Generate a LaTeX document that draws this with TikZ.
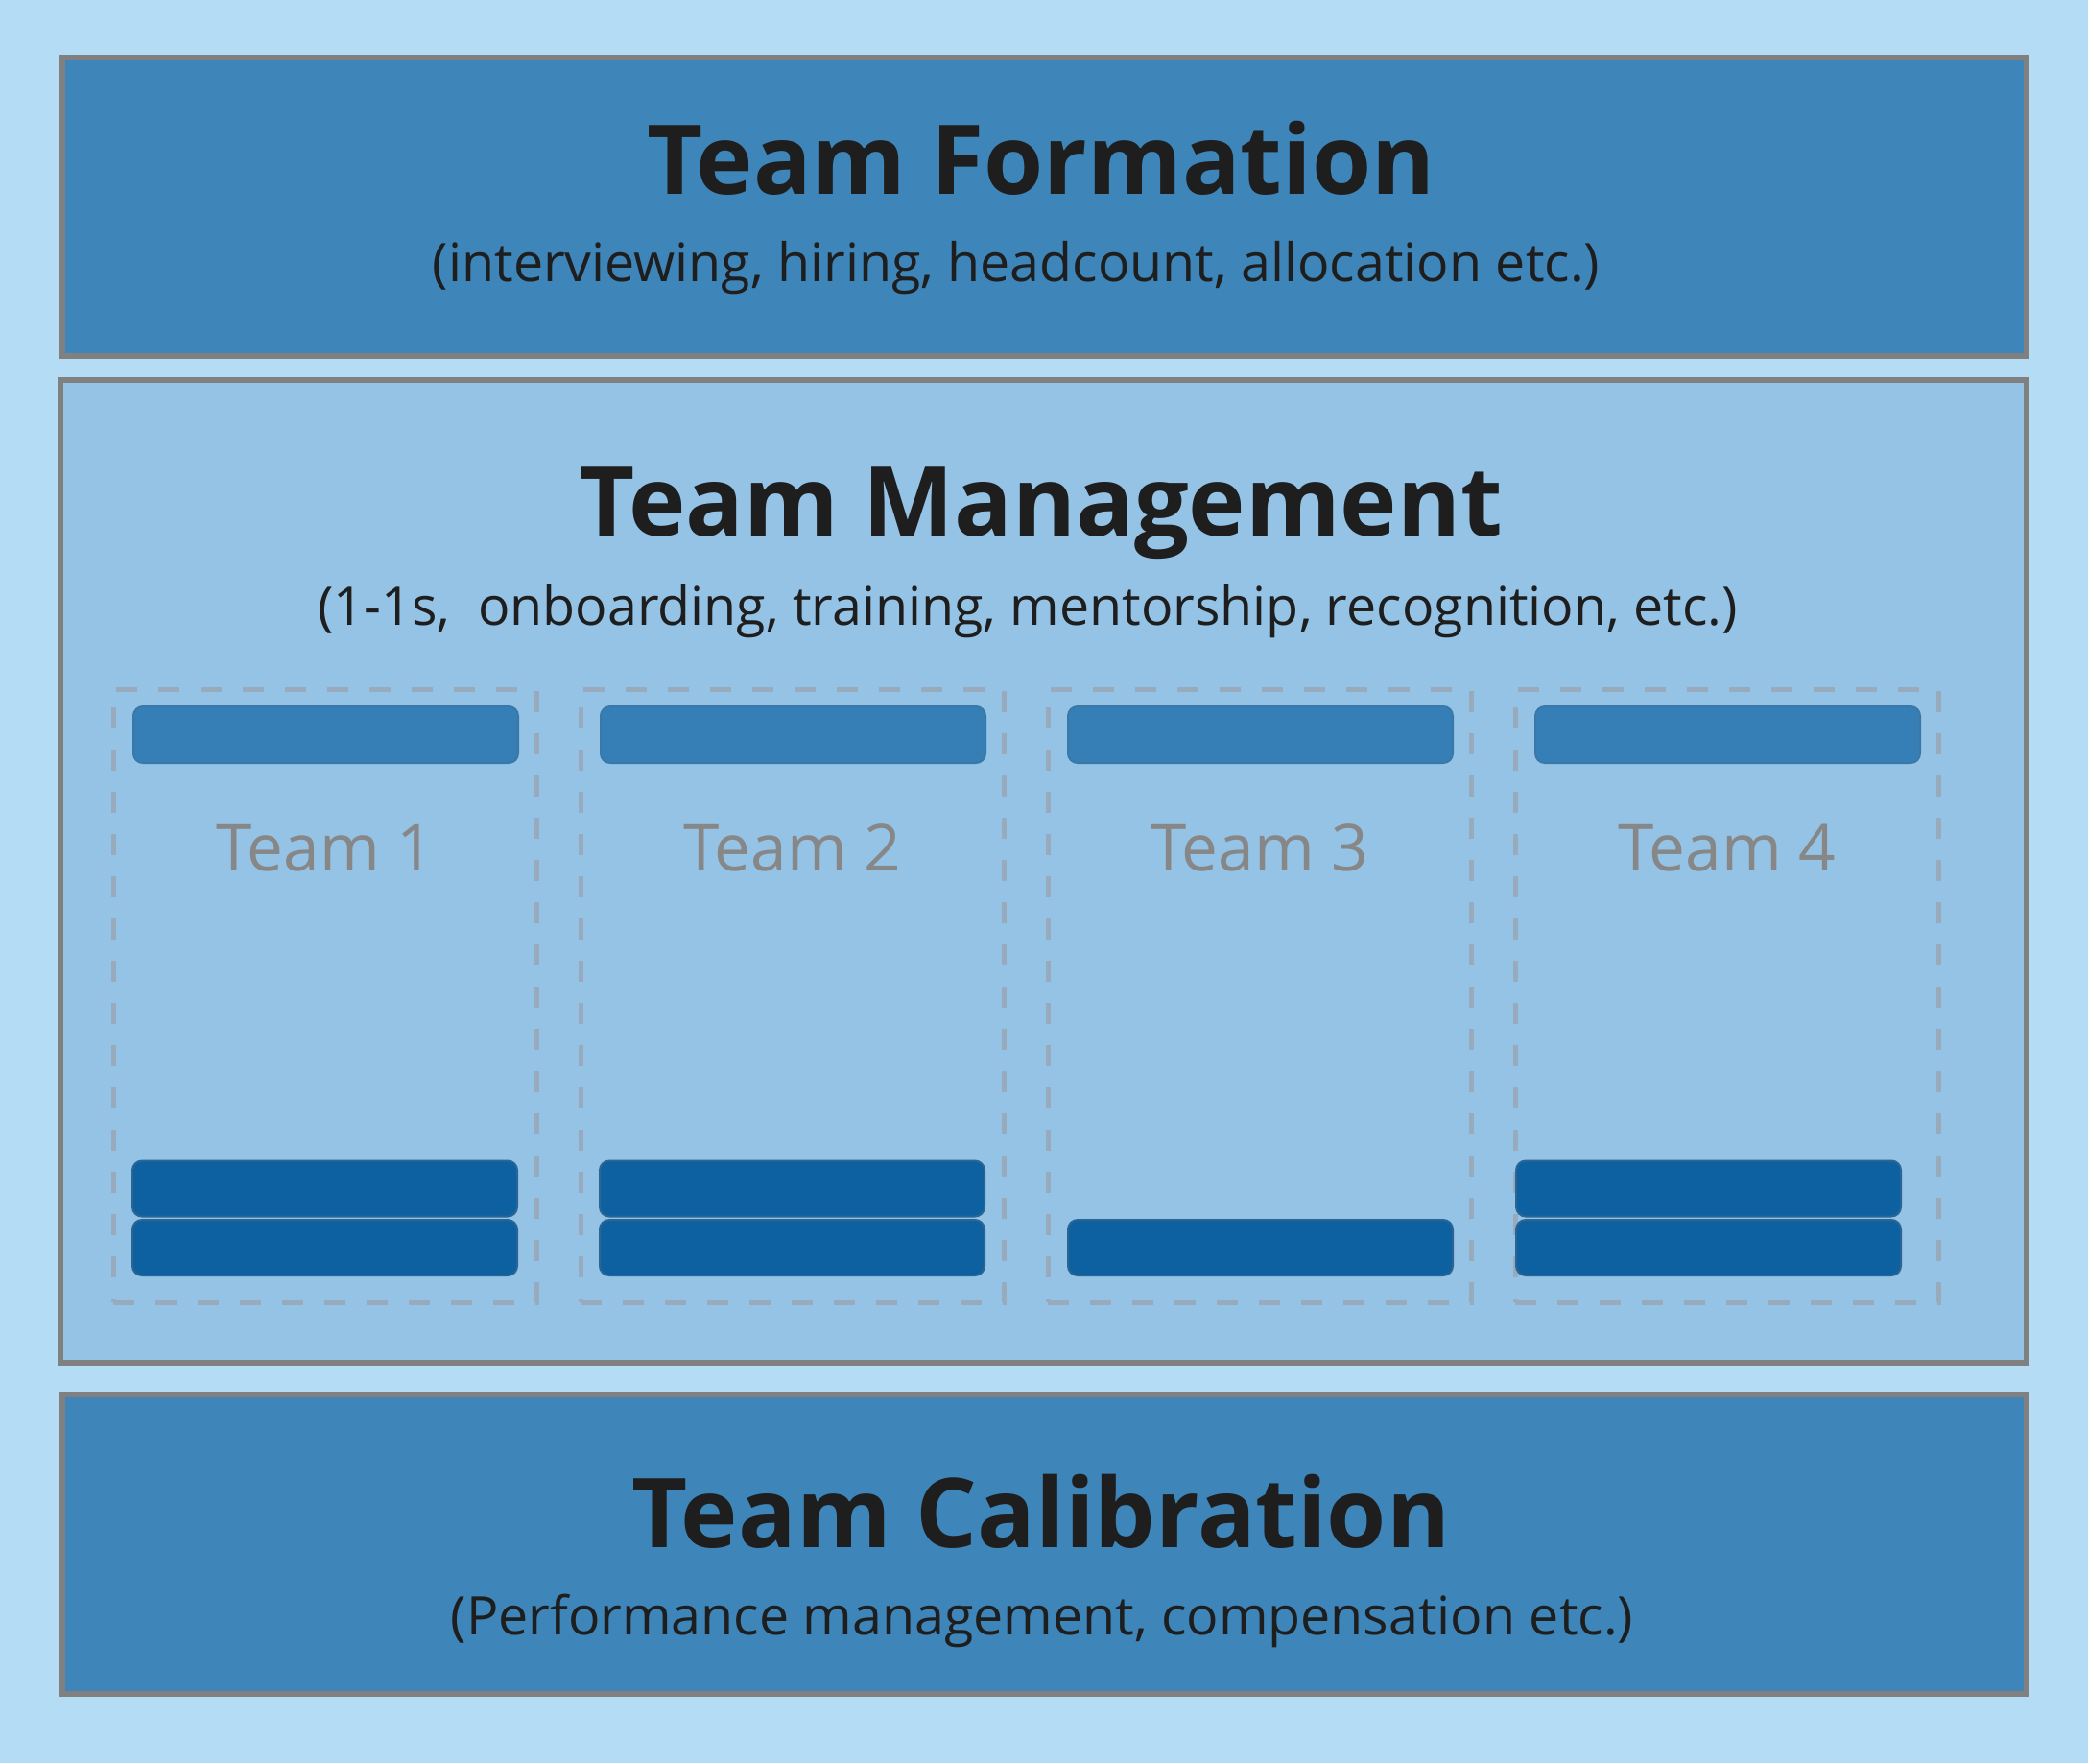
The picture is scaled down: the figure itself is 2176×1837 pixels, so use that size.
\documentclass[tikz,border=0pt]{standalone}
\usepackage{fontspec}
\setmainfont{Open Sans}
\definecolor{bgcol}{HTML}{B5DCF5}
\definecolor{darkbox}{HTML}{3E86B9}
\definecolor{midbox}{HTML}{94C3E5}
\definecolor{framecol}{HTML}{808080}
\definecolor{dashcol}{HTML}{97ABBD}
\definecolor{topbar}{HTML}{367FB6}
\definecolor{topbarline}{HTML}{3A78A8}
\definecolor{lowbar}{HTML}{0E61A0}
\definecolor{lowbarline}{HTML}{2A6594}
\definecolor{textcol}{HTML}{1E1E1E}
\definecolor{teamtext}{HTML}{878787}
\tikzset{
  bigbox/.style={draw=framecol, line width=6pt, inner sep=0pt, minimum width=2047pt},
  teambox/.style={draw=dashcol, line width=5pt, dash pattern=on 22pt off 22pt, inner sep=0pt, minimum width=441pt, minimum height=639pt},
  topbarbox/.style={draw=topbarline, fill=topbar, line width=2pt, rounded corners=10pt, inner sep=0pt, minimum width=401pt, minimum height=59pt},
  lowbarbox/.style={draw=lowbarline, fill=lowbar, line width=2pt, rounded corners=10pt, inner sep=0pt, minimum width=401pt, minimum height=58pt},
  titletext/.style={anchor=base, text=textcol, font=\fontsize{100.5}{105}\selectfont\bfseries, inner sep=0pt},
  subtext/.style={anchor=base, text=textcol, font=\fontsize{55.5}{60}\selectfont, inner sep=0pt},
  teamlabel/.style={anchor=base, text=teamtext, font=\fontsize{67.5}{72}\selectfont, inner sep=0pt}
}
\begin{document}
\begin{tikzpicture}[x=1pt,y=-1pt]
\useasboundingbox (0,0) rectangle (2176,1837);
\fill[bgcol] (0,0) rectangle (2176,1837);
% main boxes
\node[bigbox, fill=darkbox, minimum height=311pt] (formation) at (1088.5,215.5) {};
\node[bigbox, fill=midbox, minimum width=2049pt, minimum height=1024pt] (management) at (1087.5,908) {};
\node[bigbox, fill=darkbox, minimum height=312pt] (calibration) at (1088.5,1609) {};
% titles
\node[titletext] (formtitle) at (1085,202) {Team Formation};
\node[subtext] (formsub) at (1059,293) {(interviewing, hiring, headcount, allocation etc.)};
\node[titletext] (mgmttitle) at (1085,558) {Team Management};
\node[subtext] (mgmtsub) at (1071,651) {(1-1s,\ \ onboarding, training, mentorship, recognition, etc.)};
\node[titletext] (calibtitle) at (1085,1612) {Team Calibration};
\node[subtext] (calibsub) at (1086,1703) {(Performance management, compensation etc.)};
% teams
\foreach \i/\cx in {1/338.5, 2/825.5, 3/1312.5, 4/1799.5}{
  \node[teambox] (team\i) at (\cx,1037.5) {};
  \node[topbarbox] (team\i top) at (\cx+1,765.5) {};
  \node[teamlabel] (team\i label) at (\cx,907) {Team \i};
}
\node[lowbarbox] (team1a) at (338.5,1238.5) {};
\node[lowbarbox] (team1b) at (338.5,1300) {};
\node[lowbarbox] (team2a) at (825.5,1238.5) {};
\node[lowbarbox] (team2b) at (825.5,1300) {};
\node[lowbarbox] (team3b) at (1313.5,1300) {};
\node[lowbarbox] (team4a) at (1780.5,1238.5) {};
\node[lowbarbox] (team4b) at (1780.5,1300) {};
\end{tikzpicture}
\end{document}
